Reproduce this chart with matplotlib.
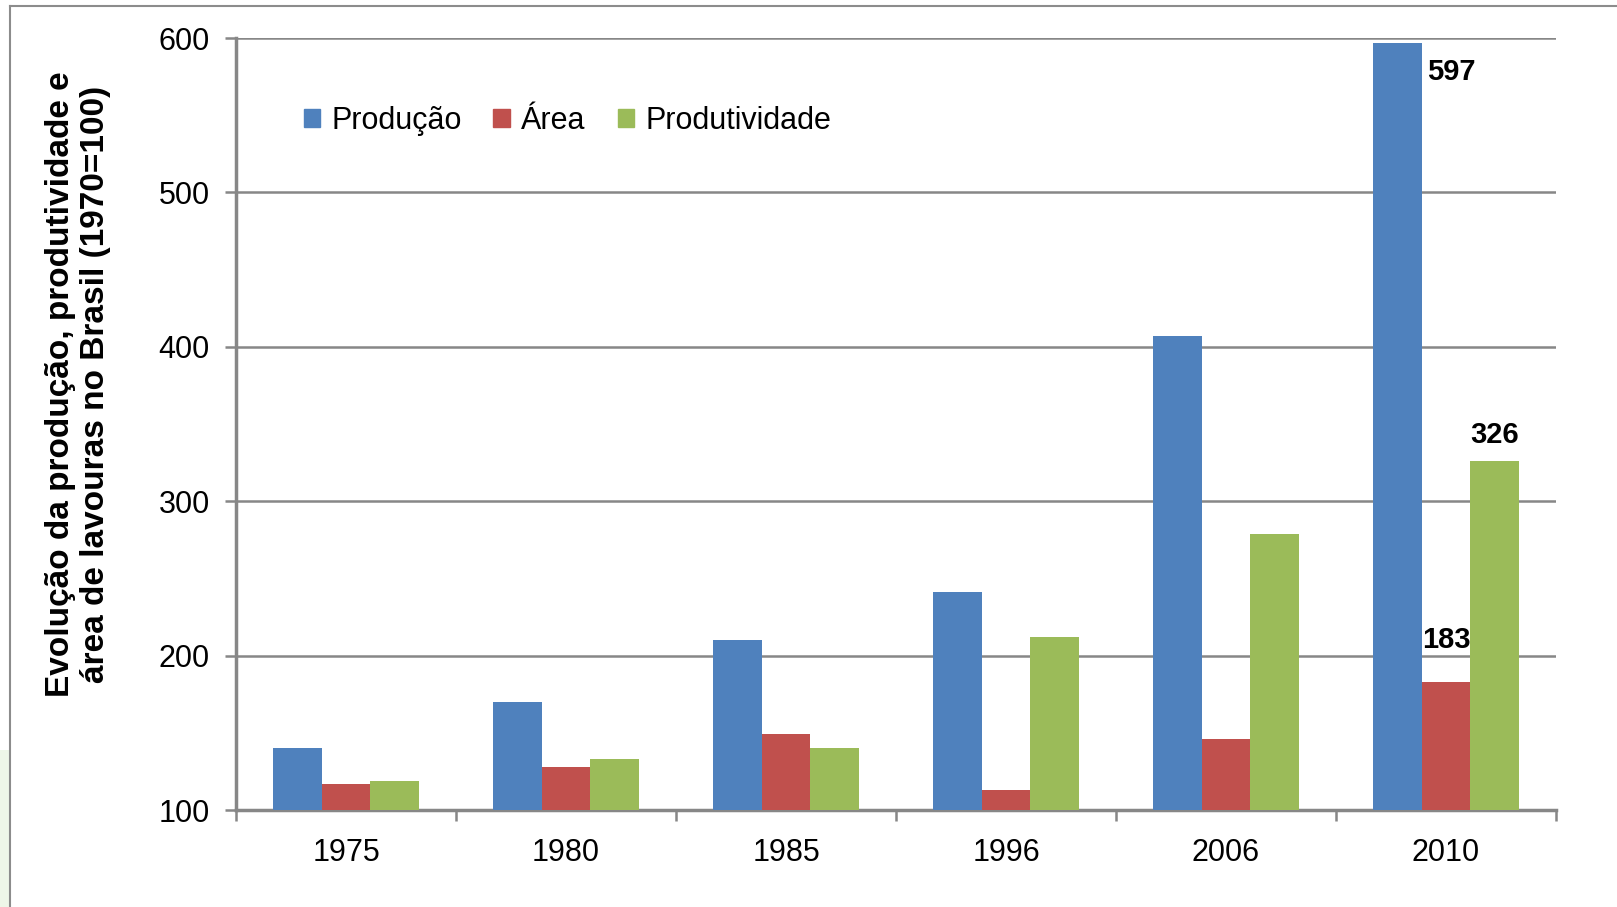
import matplotlib.pyplot as plt
import numpy as np
from matplotlib.patches import Patch, Rectangle
from matplotlib.lines import Line2D

plt.rcParams['font.family'] = ['Liberation Sans', 'DejaVu Sans']

years = ["1975", "1980", "1985", "1996", "2006", "2010"]
producao = [140, 170, 210, 241, 407, 597]
area = [117, 128, 149, 113, 146, 183]
produtividade = [119, 133, 140, 212, 279, 326]
series_names = ["Produção", "Área", "Produtividade"]
colors = ["#4F81BD", "#C0504D", "#9BBB59"]
grid_c = "#878787"

fig = plt.figure(figsize=(16.17, 9.07), dpi=100)
ax = fig.add_axes([236 / 1617, 1 - 810 / 907, 1320 / 1617, 772 / 907])

x = np.arange(len(years))
w = 0.222
ax.bar(x - w, producao, w, color=colors[0], zorder=3)
ax.bar(x, area, w, color=colors[1], zorder=3)
ax.bar(x + w, produtividade, w, color=colors[2], zorder=3)

ax.set_xlim(-0.5, len(years) - 0.5)
ax.set_ylim(100, 600)
ax.set_yticks(np.arange(100, 601, 100))
ax.yaxis.grid(True, color=grid_c, lw=1.8, zorder=1)
ax.tick_params(axis='y', length=8, width=1.8, color=grid_c, labelsize=22, pad=11)

# x ticks at category boundaries, labels at centres
ax.set_xticks(np.arange(-0.5, len(years), 1.0))
ax.set_xticklabels([])
ax.set_xticks(x, minor=True)
ax.set_xticklabels(years, minor=True)
ax.tick_params(axis='x', which='major', length=8, width=1.8, color=grid_c)
ax.tick_params(axis='x', which='minor', length=0, labelsize=22, pad=20)

for s in ['top', 'right']:
    ax.spines[s].set_visible(False)
for s in ['left', 'bottom']:
    ax.spines[s].set_color(grid_c)
    ax.spines[s].set_linewidth(2.5)

# data labels for 2010
i = len(years) - 1
ax.annotate(str(producao[i]), (i - w / 2, producao[i]), xytext=(4, -21),
            textcoords='offset points', ha='left', va='center',
            fontsize=21, fontweight='bold')
ax.annotate(str(area[i]), (i, area[i]), xytext=(0, 30),
            textcoords='offset points', ha='center', va='center',
            fontsize=21, fontweight='bold')
ax.annotate(str(produtividade[i]), (i + w, produtividade[i]), xytext=(0, 19),
            textcoords='offset points', ha='center', va='center',
            fontsize=21, fontweight='bold')

handles = [Patch(color=c, label=n) for c, n in zip(colors, series_names)]
fig.legend(handles=handles, loc='center left', ncol=3, frameon=False,
           bbox_to_anchor=(276 / 1617, 1 - 121 / 907), fontsize=22,
           handlelength=0.55, handleheight=0.55, handletextpad=0.35,
           columnspacing=1.05)

fig.text(78 / 1617, 1 - 384 / 907,
         "Evolução da produção, produtividade e\nárea de lavouras no Brasil (1970=100)",
         rotation=90, ha='center', va='center', fontsize=24,
         fontweight='bold', linespacing=1.2)

# slide frame
fig.add_artist(Rectangle((0, 0), 10 / 1617, 157 / 907,
                         transform=fig.transFigure, color="#eef6e8", lw=0))
fig.add_artist(Line2D([10 / 1617, 1], [1 - 6 / 907, 1 - 6 / 907],
                      transform=fig.transFigure, color="#8c8c8c", lw=1.5))
fig.add_artist(Line2D([10 / 1617, 10 / 1617], [0, 1 - 6 / 907],
                      transform=fig.transFigure, color="#8c8c8c", lw=1.5))

fig.savefig("out.png", dpi=100)
